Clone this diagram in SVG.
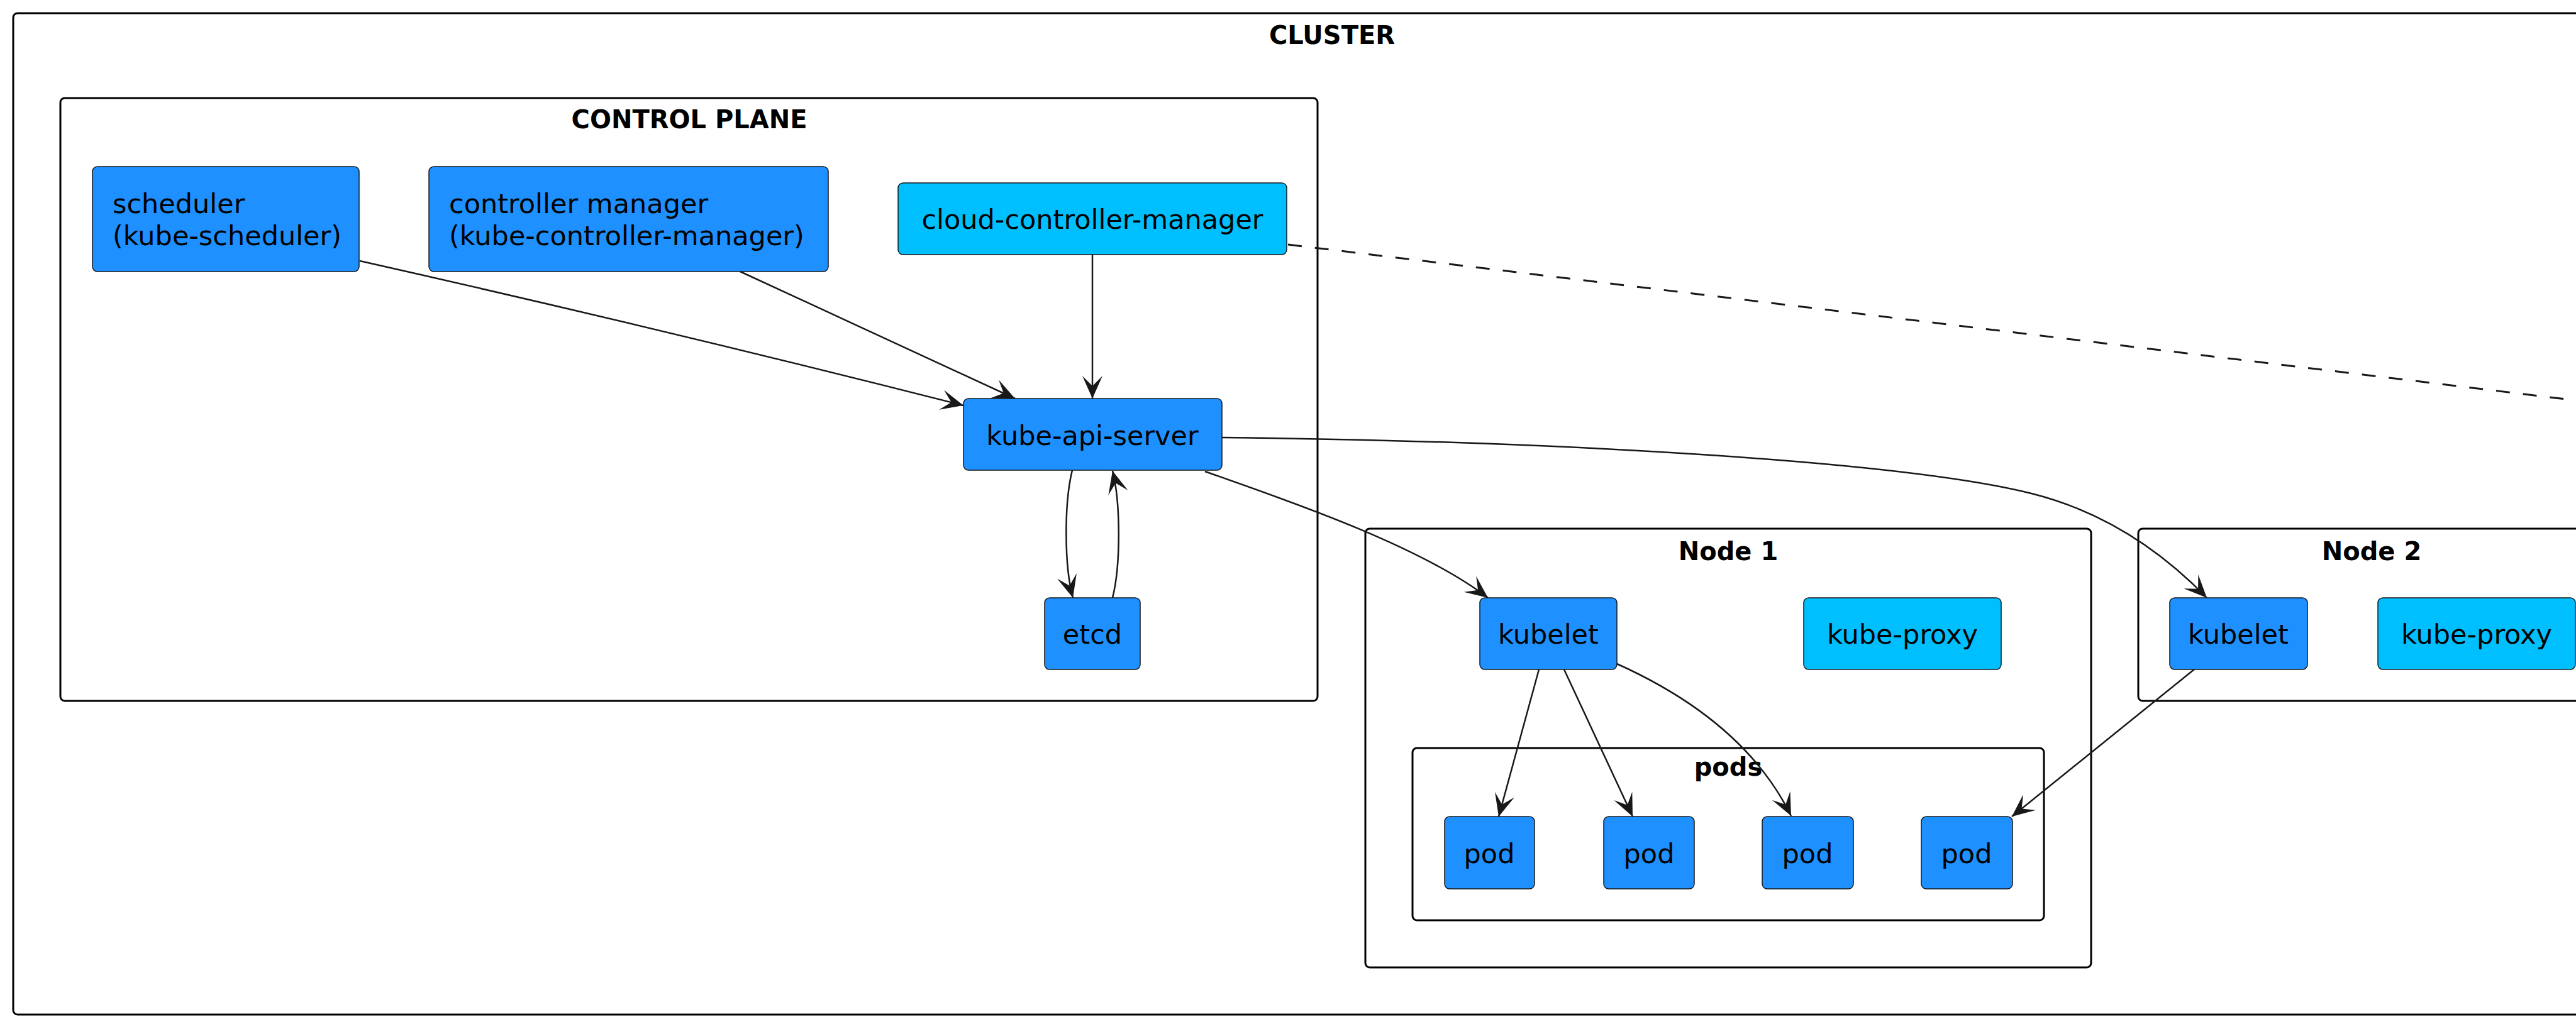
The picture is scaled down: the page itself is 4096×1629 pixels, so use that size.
<svg xmlns="http://www.w3.org/2000/svg" width="4096" height="1629" viewBox="0 0 4096 1629">
  <style>
    .frame { fill: none; stroke: #000000; stroke-width: 3; }
    .title { font-family: "DejaVu Sans", "Liberation Sans", sans-serif; font-weight: bold; font-size: 40px; fill: #000000; text-anchor: middle; }
    .box { stroke: #181818; stroke-width: 1.5; }
    .core { fill: #1E90FF; }
    .cloud { fill: #00BFFF; }
    .label { font-family: "DejaVu Sans", "Liberation Sans", sans-serif; font-size: 43px; fill: #000000; }
    .mid { text-anchor: middle; }
    .edge { fill: none; stroke: #181818; stroke-width: 2.5; }
    .dash { stroke-dasharray: 22 21; stroke-width: 3; }
  </style>
  <defs>
    <marker id="arrow" markerUnits="userSpaceOnUse" markerWidth="42" markerHeight="38" viewBox="-38 -19 42 38" refX="0" refY="0" orient="auto">
      <path d="M0,0 L-36,-16 L-20,0 L-36,16 Z" fill="#181818"/>
    </marker>
  </defs>

  <rect width="4096" height="1629" fill="#FFFFFF"/>

  <!-- containers -->
  <g id="cluster">
    <rect class="frame" x="21" y="21" width="4198" height="1593" rx="7"/>
    <text class="title" x="2118" y="70">CLUSTER</text>
  </g>
  <g id="control-plane">
    <rect class="frame" x="96" y="156" width="1999" height="959" rx="7"/>
    <text class="title" x="1096" y="204">CONTROL PLANE</text>
  </g>
  <g id="node-1">
    <rect class="frame" x="2171" y="841" width="1154" height="698" rx="7"/>
    <text class="title" x="2748" y="891">Node 1</text>
  </g>
  <g id="pods">
    <rect class="frame" x="2246" y="1190" width="1004" height="274" rx="7"/>
    <text class="title" x="2748" y="1234">pods</text>
  </g>
  <g id="node-2">
    <rect class="frame" x="3400" y="841" width="742" height="274" rx="7"/>
    <text class="title" x="3771" y="891">Node 2</text>
  </g>

  <!-- connectors -->
  <g id="connectors">
    <path class="edge" d="M572,415 Q1060,525 1532,645" marker-end="url(#arrow)"/>
    <path class="edge" d="M1177,432 L1614,634" marker-end="url(#arrow)"/>
    <path class="edge" d="M1737,405 L1737,634" marker-end="url(#arrow)"/>
    <path class="edge dash" d="M2048,389 L4096,637"/>
    <path class="edge" d="M1705,748 C1692,800 1692,900 1706,951" marker-end="url(#arrow)"/>
    <path class="edge" d="M1769,951 C1782,900 1782,800 1769,749" marker-end="url(#arrow)"/>
    <path class="edge" d="M1916,750 C2035,792 2255,866 2366,951" marker-end="url(#arrow)"/>
    <path class="edge" d="M1943,696 C2500,702 3030,735 3230,785 C3350,815 3440,880 3509,951" marker-end="url(#arrow)"/>
    <path class="edge" d="M2447,1065 L2383,1299" marker-end="url(#arrow)"/>
    <path class="edge" d="M2487,1065 L2596,1299" marker-end="url(#arrow)"/>
    <path class="edge" d="M2571,1056 C2680,1105 2790,1180 2848,1298" marker-end="url(#arrow)"/>
    <path class="edge" d="M3490,1064 L3199,1299" marker-end="url(#arrow)"/>
  </g>

  <!-- components -->
  <g id="scheduler">
    <rect class="box core" x="147" y="265" width="424" height="167" rx="8"/>
    <text class="label" x="179" y="339">scheduler</text>
    <text class="label" x="179" y="390">(kube-scheduler)</text>
  </g>
  <g id="controller-manager">
    <rect class="box core" x="682" y="265" width="635" height="167" rx="8"/>
    <text class="label" x="714" y="339">controller manager</text>
    <text class="label" x="714" y="390">(kube-controller-manager)</text>
  </g>
  <g id="cloud-controller-manager">
    <rect class="box cloud" x="1428" y="291" width="618" height="114" rx="8"/>
    <text class="label mid" x="1737" y="364">cloud-controller-manager</text>
  </g>
  <g id="kube-api-server">
    <rect class="box core" x="1532" y="634" width="411" height="114" rx="8"/>
    <text class="label mid" x="1737" y="708">kube-api-server</text>
  </g>
  <g id="etcd">
    <rect class="box core" x="1661" y="951" width="152" height="114" rx="8"/>
    <text class="label mid" x="1737" y="1024">etcd</text>
  </g>
  <g id="kubelet-1">
    <rect class="box core" x="2353" y="951" width="218" height="114" rx="8"/>
    <text class="label mid" x="2462" y="1024">kubelet</text>
  </g>
  <g id="kube-proxy-1">
    <rect class="box cloud" x="2868" y="951" width="314" height="114" rx="8"/>
    <text class="label mid" x="3025" y="1024">kube-proxy</text>
  </g>
  <g id="pod-1">
    <rect class="box core" x="2297" y="1299" width="143" height="115" rx="8"/>
    <text class="label mid" x="2368" y="1373">pod</text>
  </g>
  <g id="pod-2">
    <rect class="box core" x="2550" y="1299" width="144" height="115" rx="8"/>
    <text class="label mid" x="2622" y="1373">pod</text>
  </g>
  <g id="pod-3">
    <rect class="box core" x="2802" y="1299" width="145" height="115" rx="8"/>
    <text class="label mid" x="2874" y="1373">pod</text>
  </g>
  <g id="pod-4">
    <rect class="box core" x="3055" y="1299" width="145" height="115" rx="8"/>
    <text class="label mid" x="3127" y="1373">pod</text>
  </g>
  <g id="kubelet-2">
    <rect class="box core" x="3450" y="951" width="219" height="114" rx="8"/>
    <text class="label mid" x="3559" y="1024">kubelet</text>
  </g>
  <g id="kube-proxy-2">
    <rect class="box cloud" x="3781" y="951" width="314" height="114" rx="8"/>
    <text class="label mid" x="3938" y="1024">kube-proxy</text>
  </g>
</svg>
